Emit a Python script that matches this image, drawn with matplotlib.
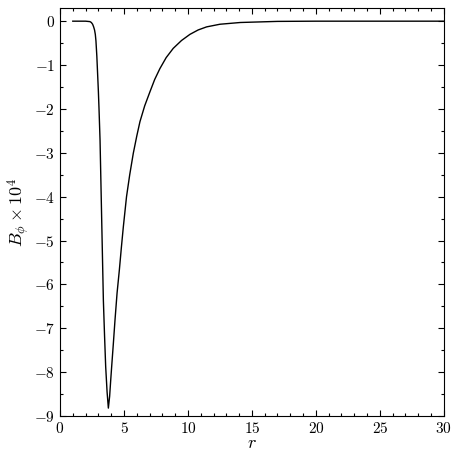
import numpy as np
import matplotlib
matplotlib.use('Agg')
import matplotlib.pyplot as plt
from matplotlib.ticker import MultipleLocator, FuncFormatter

# values
r = [1.0, 2.0, 2.34, 2.45, 2.55, 2.63, 2.7, 2.76, 2.81, 2.88, 2.94, 3.0,
     3.05, 3.13, 3.25, 3.39, 3.48, 3.57, 3.68, 3.78, 3.88, 3.96, 4.04, 4.17,
     4.3, 4.46, 4.64, 4.8, 4.95, 5.2, 5.45, 5.73, 6.0, 6.25, 6.62, 7.03,
     7.4, 7.81, 8.3, 8.85, 9.5, 10.16, 10.8, 11.46, 12.5, 14.1, 17.0, 20.0, 30.0]
b_phi = [0.0, 0.0, -0.01, -0.03, -0.07, -0.13, -0.2, -0.3, -0.45, -0.8, -1.2,
         -1.6, -2.0, -2.71, -4.4, -6.36, -7.15, -7.87, -8.45, -8.82, -8.55,
         -8.2, -7.87, -7.35, -6.81, -6.2, -5.67, -5.15, -4.69, -4.0, -3.5,
         -3.01, -2.62, -2.29, -1.93, -1.61, -1.33, -1.08, -0.83, -0.62, -0.44,
         -0.3, -0.2, -0.13, -0.07, -0.03, -0.005, 0.0, 0.0]

plt.rcParams['mathtext.fontset'] = 'cm'
plt.rcParams['font.family'] = 'serif'
plt.rcParams['font.serif'] = ['cmr10', 'DejaVu Serif']

fig = plt.figure(figsize=(4.58, 4.58), dpi=100)
ax = fig.add_axes([0.131, 0.0917, 0.838, 0.8908])
ax.plot(r, b_phi, color='black', lw=1.0)

ax.set_xlim(0, 30)
ax.set_ylim(-9, 0.3)
ax.xaxis.set_major_locator(MultipleLocator(5))
ax.xaxis.set_minor_locator(MultipleLocator(1))
ax.yaxis.set_major_locator(MultipleLocator(1))
ax.yaxis.set_minor_locator(MultipleLocator(0.5))
fmt = FuncFormatter(lambda v, p: f'${v:g}$')
ax.xaxis.set_major_formatter(fmt)
ax.yaxis.set_major_formatter(fmt)
ax.tick_params(which='both', direction='in', top=True, right=True, labelsize=11)
ax.tick_params(which='major', length=4, width=0.8)
ax.tick_params(which='minor', length=2.5, width=0.8)

ax.set_xlabel(r'$r$', fontsize=13, labelpad=0)
ax.set_ylabel(r'$B_\phi \times 10^4$', fontsize=13, labelpad=1)

fig.savefig('out.png', dpi=100)
